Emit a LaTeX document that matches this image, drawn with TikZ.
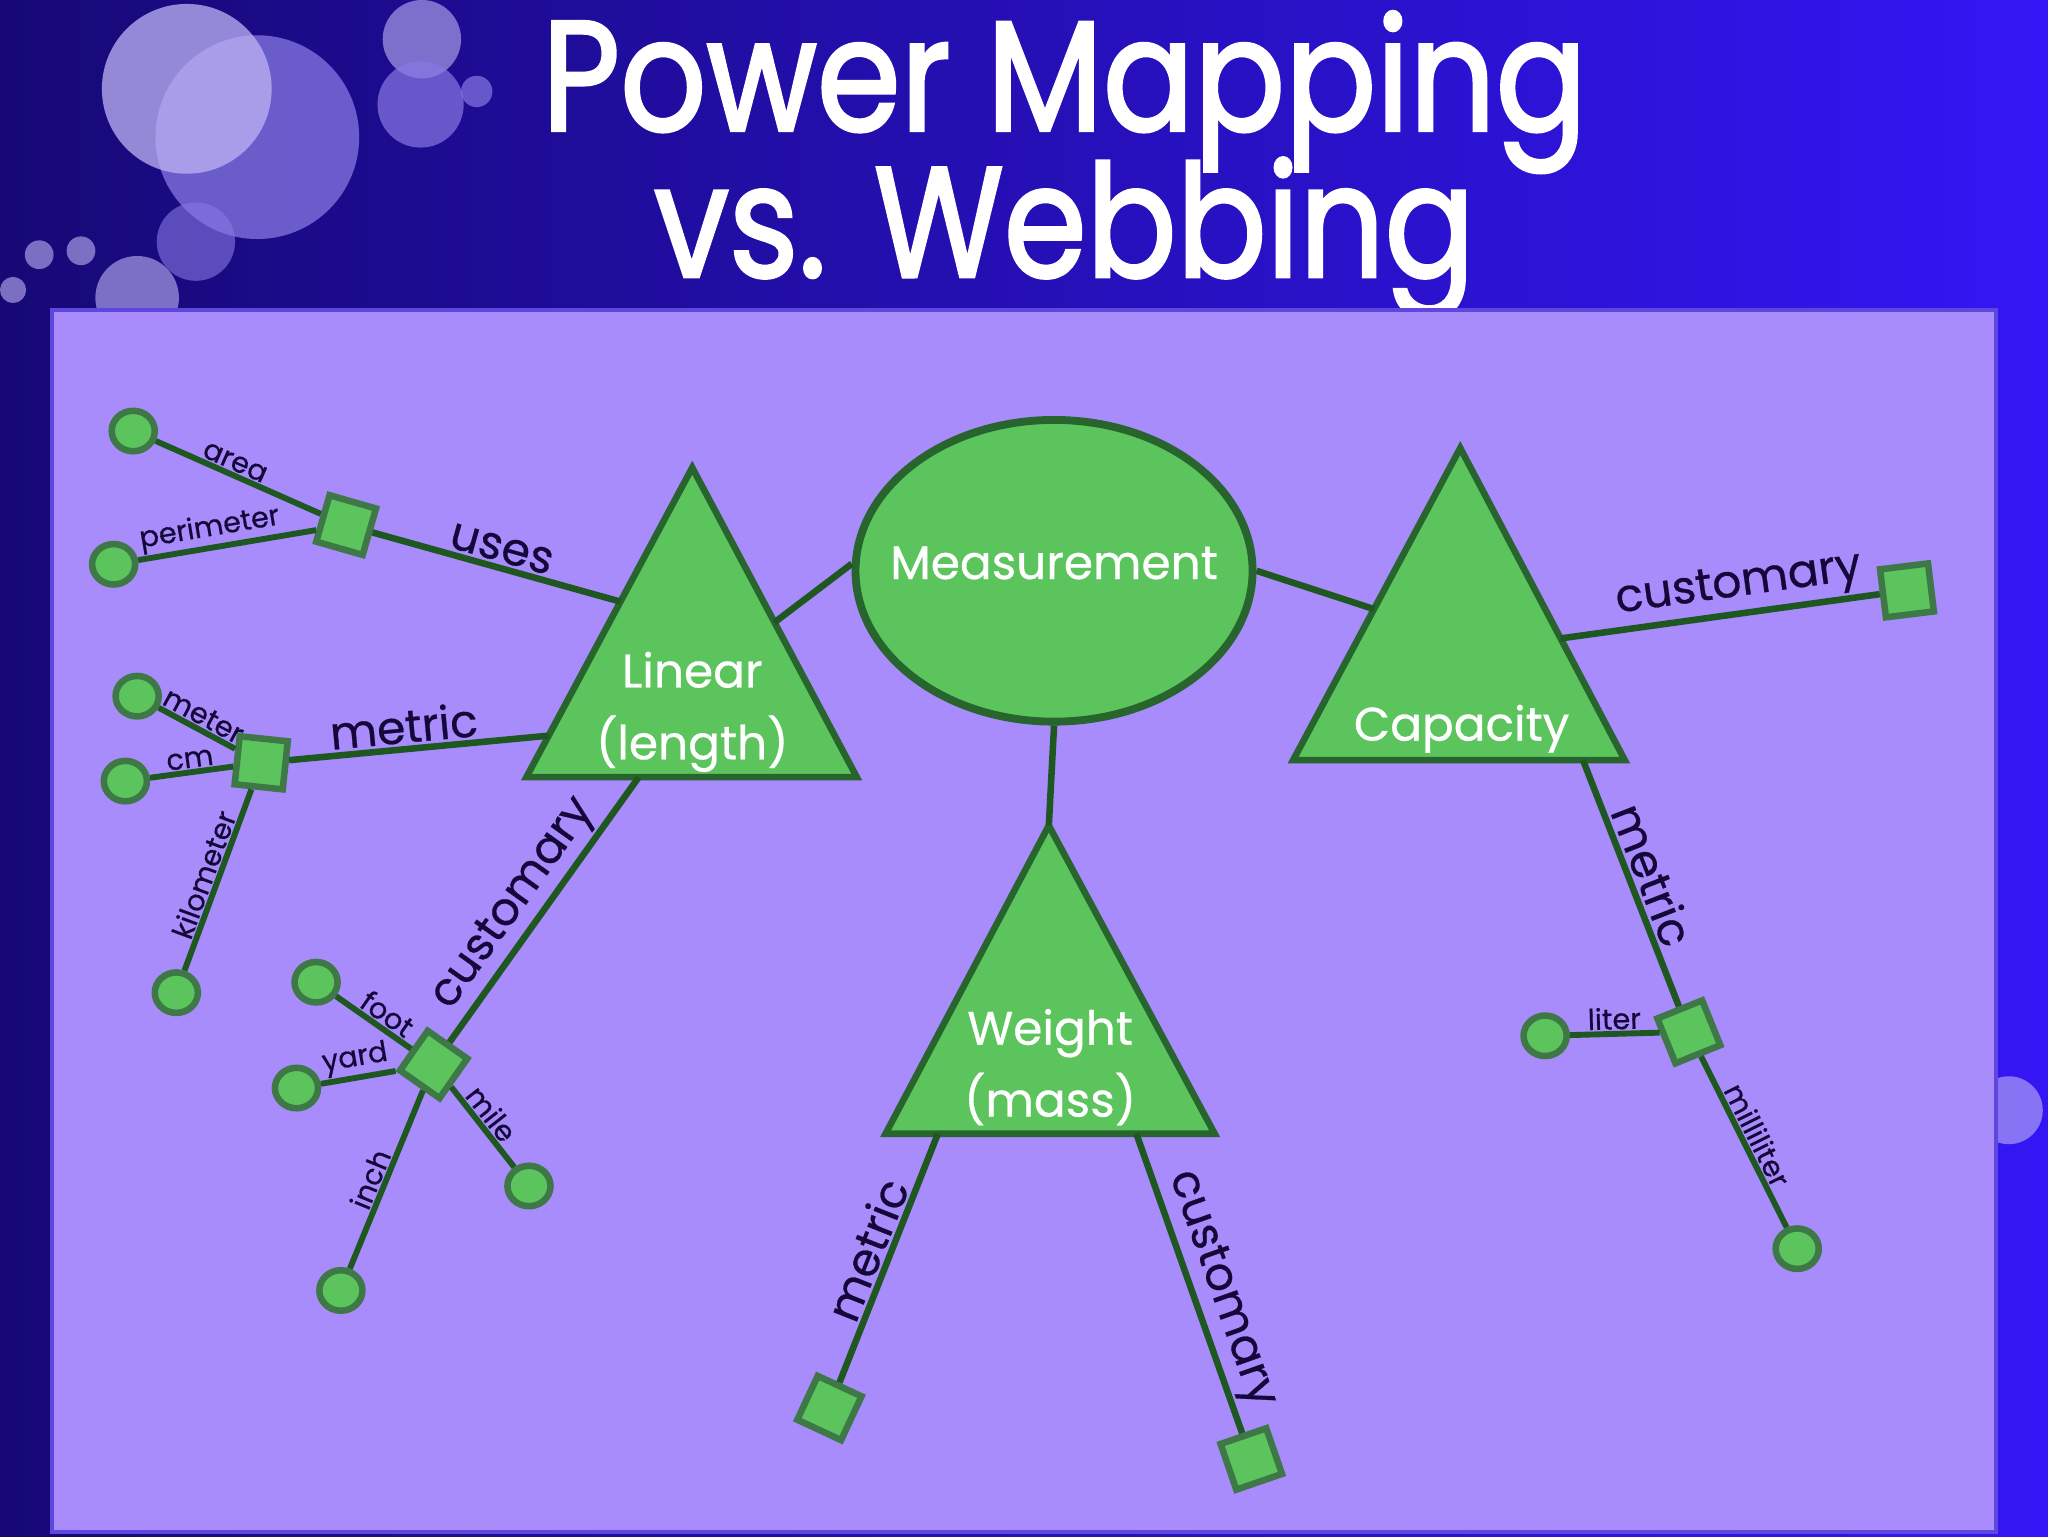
\documentclass[tikz,border=0pt]{standalone}
\usepackage{fontspec}
\setmainfont{Poppins}
\newfontfamily\ttlfont[FakeBold=2]{Poppins}
\newfontfamily\labfont[FakeBold=0.6]{Poppins}
\usetikzlibrary{calc,shapes.geometric}
\definecolor{panel}{RGB}{168,140,251}
\definecolor{panelline}{RGB}{95,70,220}
\definecolor{gfill}{RGB}{92,196,92}
\definecolor{gborder}{RGB}{40,100,45}
\definecolor{lborder}{RGB}{62,120,70}
\definecolor{conn}{RGB}{30,88,32}
\definecolor{ink}{RGB}{20,8,58}
\definecolor{bgleft}{RGB}{22,9,118}
\definecolor{bgright}{RGB}{52,22,245}
\definecolor{bubA}{RGB}{190,180,245}
\definecolor{bubB}{RGB}{135,120,228}
\begin{document}
\begin{tikzpicture}[x=1pt,y=-1pt,
  tri/.style={draw=gborder,line width=5pt,fill=gfill},
  leaf/.style={ellipse,draw=lborder,line width=5pt,fill=gfill,minimum width=33pt,minimum height=31pt,inner sep=0pt},
  sq/.style={rectangle,draw=lborder,line width=5pt,fill=gfill,minimum size=37pt,inner sep=0pt},
  con/.style={draw=conn,line width=5pt},
  leafcon/.style={draw=conn,line width=4.5pt},
  biglab/.style={font=\labfont\fontsize{35}{37}\selectfont,text=ink,sloped,above,inner sep=2pt},
  smalllab/.style={font=\labfont\fontsize{22}{24}\selectfont,text=ink,sloped,above,inner sep=1pt},
  ntext/.style={font=\labfont\fontsize{36}{55}\selectfont,text=white,align=center,inner sep=0pt},
  ttl/.style={font=\ttlfont\fontsize{120}{122}\selectfont,text=white,anchor=base,inner sep=0pt}
]
\useasboundingbox (0,0) rectangle (1568,1176);
% background
\shade[left color=bgleft,right color=bgright] (0,0) rectangle (1568,1176);
% bubbles
\fill[bubB,opacity=0.75] (197,105) circle (78);
\fill[bubA,opacity=0.75] (143,68) circle (65);
\fill[bubA,opacity=0.6] (323,30) circle (30);
\fill[bubB,opacity=0.7] (322,80) circle (33);
\fill[bubB,opacity=0.7] (365,70) circle (12);
\fill[bubB,opacity=0.6] (150,185) circle (30);
\fill[bubA,opacity=0.6] (105,228) circle (32);
\fill[bubA,opacity=0.6] (30,195) circle (11);
\fill[bubA,opacity=0.6] (62,192) circle (11);
\fill[bubA,opacity=0.6] (10,222) circle (10);
\fill[bubA,opacity=0.6] (1538,850) circle (26);
% title
\node[ttl] (t1) at (815,100) {\scalebox{0.86}[1]{Power Mapping}};
\node[ttl] (t2) at (815,212) {\scalebox{0.85}[1]{vs. Webbing}};
% panel
\draw[fill=panel,draw=panelline,line width=3pt] (40,237) rectangle (1528,1173);

% central ellipse
\node[ellipse,draw=gborder,line width=6pt,fill=gfill,minimum width=304pt,minimum height=231pt,inner sep=0pt] (M) at (807,437) {};
\node[font=\labfont\fontsize{36}{40}\selectfont,text=white,inner sep=0pt] (Mtx) at (807,431) {Measurement};

% triangles
\coordinate (LA) at (530,358); \coordinate (LL) at (403,595); \coordinate (LR) at (656,595);
\coordinate (CA) at (1118,343); \coordinate (CL) at (990,582); \coordinate (CR) at (1244,582);
\coordinate (WA) at (803,632); \coordinate (WL) at (678,868); \coordinate (WR) at (930,868);
\draw[tri] (LA) -- (LL) -- (LR) -- cycle;
\draw[tri] (CA) -- (CL) -- (CR) -- cycle;
\draw[tri] (WA) -- (WL) -- (WR) -- cycle;
\node[ntext] (Ltx) at (530,545) {Linear\\(length)};
\node[ntext] (Ctx) at (1119,558) {Capacity};
\node[ntext] (Wtx) at (804,817) {Weight\\(mass)};

% attachment points on triangles
\coordinate (Luses) at ($(LA)!0.433!(LL)$);
\coordinate (Lmet)  at ($(LA)!0.866!(LL)$);
\coordinate (Lmeas) at ($(LA)!0.5!(LR)$);
\coordinate (Lcus)  at ($(LL)!0.34!(LR)$);
\coordinate (Cmeas) at ($(CA)!0.516!(CL)$);
\coordinate (Ccus)  at ($(CA)!0.61!(CR)$);
\coordinate (Cmet)  at ($(CL)!0.874!(CR)$);
\coordinate (Wmet)  at ($(WL)!0.159!(WR)$);
\coordinate (Wcus)  at ($(WL)!0.762!(WR)$);

% squares
\node[sq,rotate=-16] (usq) at (265,402) {};
\node[sq,rotate=-6] (msq) at (200,584) {};
\node[sq,rotate=-35] (csq) at (332,815) {};
\node[sq,rotate=7] (ccsq) at (1460,452) {};
\node[sq,rotate=22] (cmsq) at (1293,790) {};
\node[sq,rotate=-25] (wmsq) at (635,1078) {};
\node[sq,rotate=19] (wcsq) at (958,1117) {};

% leaves
\node[leaf] (area) at (102,330) {};
\node[leaf] (peri) at (87,432) {};
\node[leaf] (meter) at (105,533) {};
\node[leaf] (cm) at (96,598) {};
\node[leaf] (km) at (135,760) {};
\node[leaf] (foot) at (242,752) {};
\node[leaf] (yard) at (227,833) {};
\node[leaf] (mile) at (405,908) {};
\node[leaf] (inch) at (261,988) {};
\node[leaf] (liter) at (1183,793) {};
\node[leaf] (ml) at (1376,956) {};

% connectors: measurement
\draw[con] (M.178) -- (Lmeas);
\draw[con] (M.east) -- (Cmeas);
\draw[con] (M.south) -- (WA);

% connectors: linear
\draw[con] (usq) -- node[biglab,pos=0.5] {uses} (Luses);
\draw[con] (msq) -- node[biglab,pos=0.45] {metric} (Lmet);
\draw[con] (csq) -- node[biglab,pos=0.46] {customary} (Lcus);
\draw[leafcon] (area) -- node[smalllab,pos=0.45] {area} (usq);
\draw[leafcon] (peri) -- node[smalllab,pos=0.42] {perimeter} (usq);
\draw[leafcon] (meter) -- node[smalllab,pos=0.5] {meter} (msq);
\draw[leafcon] (cm) -- node[smalllab,pos=0.5] {cm} (msq);
\draw[leafcon] (msq) -- node[smalllab,pos=0.5] {kilometer} (km);
\draw[leafcon] (foot) -- node[smalllab,pos=0.57] {foot} (csq);
\draw[leafcon] (yard) -- node[smalllab,pos=0.5] {yard} (csq);
\draw[leafcon] (csq) -- node[smalllab,pos=0.45] {mile} (mile);
\draw[leafcon] (csq) -- node[smalllab,pos=0.53] {inch} (inch);

% connectors: capacity
\draw[con] (Ccus) -- node[biglab,pos=0.57] {customary} (ccsq);
\draw[con] (Cmet) -- node[biglab,pos=0.5] {metric} (cmsq);
\draw[leafcon] (liter) -- node[smalllab,pos=0.5] {liter} (cmsq);
\draw[leafcon] (cmsq) -- node[smalllab,pos=0.5] {milliliter} (ml);

% connectors: weight
\draw[con] (Wmet) -- node[biglab,pos=0.5] {metric} (wmsq);
\draw[con] (Wcus) -- node[biglab,pos=0.55] {customary} (wcsq);
\end{tikzpicture}
\end{document}
